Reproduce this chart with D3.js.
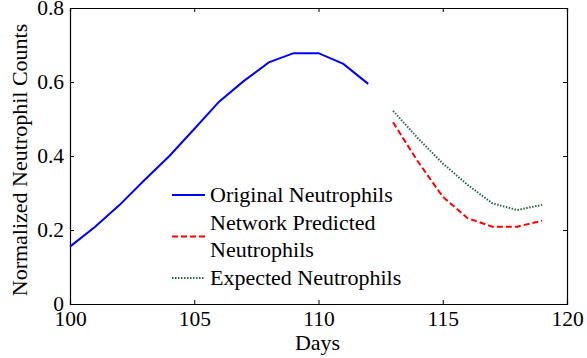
<!DOCTYPE html>
<html><head><meta charset="utf-8">
<script src="https://cdn.jsdelivr.net/npm/d3@7"></script>
<style>body{margin:0;background:#fff}svg{display:block}svg text{font-family:"Liberation Serif",Tinos,"Times New Roman","DejaVu Serif",serif !important;fill:#000}</style>
</head><body>
<script>
const origDays = [100,101,102,103,104,105,106,107,108,109,110,111,112];
const origVals = [0.155,0.208,0.268,0.335,0.400,0.473,0.547,0.603,0.653,0.678,0.678,0.649,0.595];
const predDays = [113,114,115,116,117,118,119];
const predVals = [0.491,0.385,0.290,0.232,0.209,0.209,0.225];
const expDays = [113,114,115,116,117,118,119];
const expVals = [0.522,0.448,0.380,0.322,0.272,0.254,0.268];
const xTicks = [100,105,110,115,120];
const yTicks = [0,0.2,0.4,0.6,0.8];
const legendLabels = [["Original Neutrophils"],["Network Predicted","Neutrophils"],["Expected Neutrophils"]];
const xTitle = "Days", yTitle = "Normalized Neutrophil Counts";

const W=587,H=358, L=70,R=567,T=8,B=304;
const svg=d3.select("body").append("svg").attr("width",W).attr("height",H);
const x=d3.scaleLinear().domain([100,120]).range([L,R]);
const y=d3.scaleLinear().domain([0,0.8]).range([B,T]);
const fsTick=21.5, fsLeg=22, fsLab=22;

const ax=svg.append("g");
ax.append("g").attr("transform",`translate(0,${B})`).call(d3.axisBottom(x).tickValues(xTicks).tickSize(-4).tickPadding(7).tickFormat(d3.format("d")));
ax.append("g").attr("transform",`translate(0,${T})`).call(d3.axisTop(x).tickValues(xTicks).tickSize(-4).tickFormat(""));
ax.append("g").attr("transform",`translate(${L},0)`).call(d3.axisLeft(y).tickValues(yTicks).tickSize(-4).tickPadding(6).tickFormat(d=>d===0?"0":d3.format(".1f")(d)));
ax.append("g").attr("transform",`translate(${R},0)`).call(d3.axisRight(y).tickValues(yTicks).tickSize(-4).tickFormat(""));
ax.selectAll("g").attr("font-family",null);
ax.selectAll(".domain").attr("stroke","#000").attr("stroke-width",1.2);
ax.selectAll(".tick line").attr("stroke","#000");
ax.selectAll("text").style("font-size",fsTick+"px").attr("fill","#000");

const line=d3.line().x(d=>x(d[0])).y(d=>y(d[1]));
svg.append("path").datum(origDays.map((d,i)=>[d,origVals[i]])).attr("d",line).attr("fill","none").attr("stroke","#0000ff").attr("stroke-width",2);
svg.append("path").datum(predDays.map((d,i)=>[d,predVals[i]])).attr("d",line).attr("fill","none").attr("stroke","#ff0000").attr("stroke-width",2).attr("stroke-dasharray","6,3");
svg.append("path").datum(expDays.map((d,i)=>[d,expVals[i]])).attr("d",line).attr("fill","none").attr("stroke","#2a6a4a").attr("stroke-width",2).attr("stroke-dasharray","1.5,1.5");

// legend
const lg=svg.append("g");
const styles=[{c:"#0000ff",d:null},{c:"#ff0000",d:"6,3"},{c:"#2a6a4a",d:"1.5,1.5"}];
const rowCenters=[[195],[223,250],[278]];
rowCenters.forEach((rc,i)=>{
  const cy=d3.mean(rc);
  lg.append("line").attr("x1",172).attr("x2",205).attr("y1",cy).attr("y2",cy).attr("stroke",styles[i].c).attr("stroke-width",2).attr("stroke-dasharray",styles[i].d);
  legendLabels[i].forEach((t,j)=>{
    lg.append("text").attr("x",210).attr("y",rc[j]+7).style("font-size",fsLeg+"px").text(t);
  });
});

svg.append("text").attr("x",(L+R)/2-1).attr("y",350).attr("text-anchor","middle").style("font-size",fsLab+"px").text(xTitle);
svg.append("text").attr("transform",`translate(27,${(T+B)/2+4}) rotate(-90)`).attr("text-anchor","middle").style("font-size",fsLeg+"px").text(yTitle);
</script>
</body></html>
